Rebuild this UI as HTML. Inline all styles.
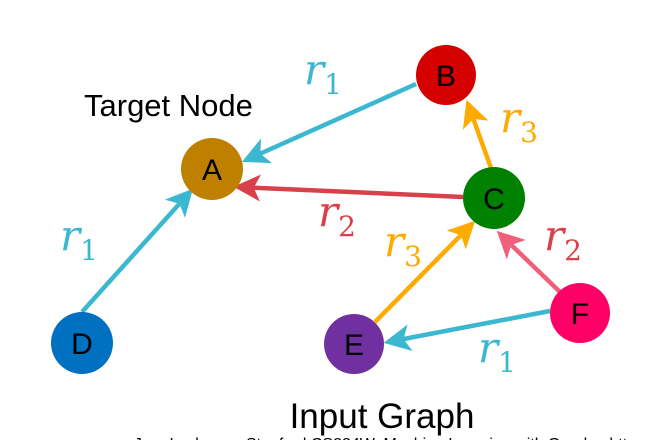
<!DOCTYPE html>
<html><head><style>
body{margin:0;background:#fff;}
svg{display:block}
.n{font-family:"Liberation Sans",sans-serif;font-size:30px;text-anchor:middle;fill:#000}
.r{font-family:"DejaVu Serif","Liberation Serif",serif;font-style:italic;font-size:42px}
.s{font-family:"DejaVu Serif","Liberation Serif",serif;font-size:28px;font-style:normal}
</style></head><body>
<svg width="658" height="440" viewBox="0 0 658 440" xmlns="http://www.w3.org/2000/svg">
<defs>
<marker id="cy" markerWidth="6" markerHeight="6" refX="5" refY="3" orient="auto" markerUnits="strokeWidth"><path d="M0,0 L6,3 L0,6 L1.5,3z" fill="#3bb8d0"/></marker>
<marker id="rd" markerWidth="6" markerHeight="6" refX="5" refY="3" orient="auto" markerUnits="strokeWidth"><path d="M0,0 L6,3 L0,6 L1.5,3z" fill="#d9404a"/></marker>
<marker id="or" markerWidth="6" markerHeight="6" refX="5" refY="3" orient="auto" markerUnits="strokeWidth"><path d="M0,0 L6,3 L0,6 L1.5,3z" fill="#ffaa00"/></marker>
<marker id="pk" markerWidth="6" markerHeight="6" refX="5" refY="3" orient="auto" markerUnits="strokeWidth"><path d="M0,0 L6,3 L0,6 L1.5,3z" fill="#f0607a"/></marker>
</defs>
<g stroke-width="4.5" fill="none">
<line x1="416" y1="84" x2="246" y2="160" stroke="#3bb8d0" marker-end="url(#cy)"/>
<line x1="463" y1="197" x2="238" y2="187" stroke="#d9404a" marker-end="url(#rd)"/>
<line x1="82" y1="312" x2="190" y2="192" stroke="#3bb8d0" marker-end="url(#cy)"/>
<line x1="491" y1="168" x2="468" y2="104" stroke="#ffaa00" marker-end="url(#or)"/>
<line x1="375" y1="322" x2="472" y2="224" stroke="#ffaa00" marker-end="url(#or)"/>
<line x1="560" y1="292" x2="500" y2="234" stroke="#f0607a" marker-end="url(#pk)"/>
<line x1="550" y1="311" x2="388" y2="342" stroke="#3bb8d0" marker-end="url(#cy)"/>
</g>
<circle cx="212" cy="169" r="31" fill="#bf8000"/>
<circle cx="446" cy="75" r="30" fill="#d40000"/>
<circle cx="494" cy="198" r="31" fill="#008000"/>
<circle cx="82" cy="343" r="31" fill="#0070c0"/>
<circle cx="354" cy="344" r="30" fill="#7030a0"/>
<circle cx="580" cy="313" r="30" fill="#ff0066"/>
<text class="n" x="212" y="180">A</text>
<text class="n" x="446" y="86">B</text>
<text class="n" x="494" y="209">C</text>
<text class="n" x="82" y="354">D</text>
<text class="n" x="354" y="355">E</text>
<text class="n" x="580" y="324">F</text>
<text x="84" y="116" font-family="Liberation Sans,sans-serif" font-size="31">Target Node</text>
<text x="382" y="428" text-anchor="middle" font-family="Liberation Sans,sans-serif" font-size="35">Input Graph</text>
<text x="385" y="449" text-anchor="middle" font-family="Liberation Sans,sans-serif" font-size="16">Jure Leskovec, Stanford CS224W: Machine Learning with Graphs, http</text>
<g class="r">
<text x="304" y="84" fill="#3bb8d0">r<tspan class="s" dy="10">1</tspan></text>
<text x="60" y="250" fill="#3bb8d0">r<tspan class="s" dy="10">1</tspan></text>
<text x="478" y="362" fill="#3bb8d0">r<tspan class="s" dy="10">1</tspan></text>
<text x="318" y="226" fill="#d9404a">r<tspan class="s" dy="10">2</tspan></text>
<text x="544" y="250" fill="#d9404a">r<tspan class="s" dy="10">2</tspan></text>
<text x="500" y="132" fill="#ffaa00">r<tspan class="s" dy="10">3</tspan></text>
<text x="384" y="256" fill="#ffaa00">r<tspan class="s" dy="10">3</tspan></text>
</g>
</svg>
</body></html>
